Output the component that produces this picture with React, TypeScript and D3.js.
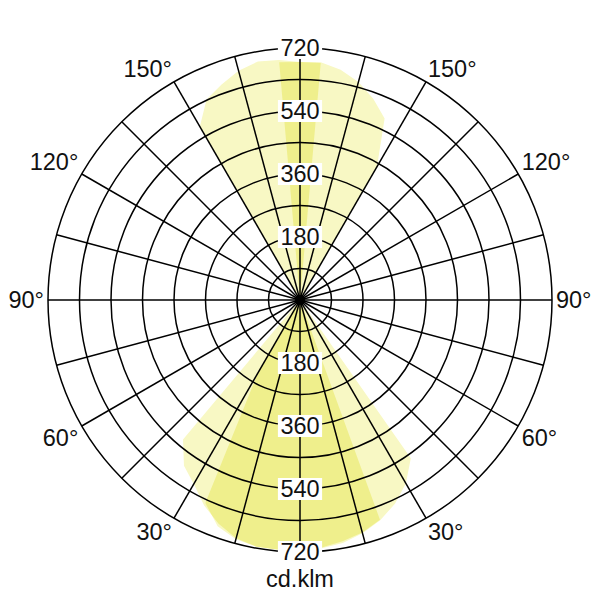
import * as d3 from "d3";
import React from "react";

// luminous intensity curves, angle measured from nadir (0 = down, + = right side)
const gammaA = [-180, -175, -170, -165, -160, -155, -150, -145, -45, -40, -35, -30, -25, -20, -15, -10, -5, 0, 5, 10, 15, 20, 25, 30, 35, 40, 145, 150, 155, 160, 165, 170, 175];
const cdA = [680, 688, 692, 678, 655, 632, 572, 0, 0, 520, 578, 607, 648, 680, 705, 716, 716, 714, 712, 705, 690, 670, 642, 605, 552, 0, 0, 440, 572, 612, 645, 668, 682];

const gammaB = [-180, -175, -170, -35, -30, -25, -20, -15, -10, -5, 0, 5, 10, 15, 20, 25, 170, 175];
const cdB = [680, 682, 0, 0, 240, 640, 688, 708, 716, 716, 714, 710, 700, 688, 668, 0, 0, 680];

const ringValues = [90, 180, 270, 360, 450, 540, 630, 720];
const ringLabels = [180, 360, 540, 720];
const angleLabels = [30, 60, 90, 120, 150];
const unitLabel = "cd.klm";

const width = 600;
const height = 600;
const cx = 300;
const cy = 300;
const outerR = 252;
const fontSize = 23.5;
const font = "'Liberation Sans', Arial, Helvetica, sans-serif";
const paleFill = "#f8f8c4";
const darkFill = "#efef8c";

export default function App() {
  const rScale = d3.scaleLinear().domain([0, 720]).range([0, outerR]);
  const toRad = (phi: number) => Math.PI - (phi * Math.PI) / 180;

  const line = d3
    .lineRadial<[number, number]>()
    .angle((d) => toRad(d[0]))
    .radius((d) => rScale(d[1]))
    .curve(d3.curveLinearClosed);

  const pathA = line(gammaA.map((g, i) => [g, cdA[i]] as [number, number])) ?? "";
  const pathB = line(gammaB.map((g, i) => [g, cdB[i]] as [number, number])) ?? "";

  const spokes = d3.range(0, 360, 15);
  const textW = (s: string) =>
    s.split("").reduce((acc, c) => acc + (c === "°" ? 0.4 : 0.556), 0) * fontSize;

  // angle labels sit just outside the outer ring
  const angleTexts: { x: number; y: number; t: string }[] = [];
  angleLabels.forEach((a) => {
    [-1, 1].forEach((side) => {
      const rad = (a * Math.PI) / 180;
      const ux = side * Math.sin(rad);
      const uy = Math.cos(rad);
      const t = `${a}°`;
      const w = textW(t);
      const px = cx + (outerR + 4) * ux;
      const py = cy + (outerR + 4) * uy;
      const oy = Math.abs(uy) < 0.01 ? 0 : Math.sign(uy) * 10;
      angleTexts.push({ x: px + side * (w / 2), y: py + oy, t });
    });
  });

  return (
    <svg
      width={width}
      height={height}
      viewBox={`0 0 ${width} ${height}`}
      style={{ position: "absolute", left: 0, top: 0, background: "#fff" }}
    >
      <defs>
        <clipPath id="clipA">
          <path d={pathA} transform={`translate(${cx},${cy})`} />
        </clipPath>
      </defs>
      <g transform={`translate(${cx},${cy})`}>
        <path d={pathA} fill={paleFill} />
        <path d={pathB} fill={paleFill} />
      </g>
      <g clipPath="url(#clipA)">
        <path d={pathB} transform={`translate(${cx},${cy})`} fill={darkFill} />
      </g>

      <g stroke="#000" strokeWidth={1.5} fill="none">
        {ringValues.map((v) => (
          <circle key={v} cx={cx} cy={cy} r={rScale(v)} />
        ))}
        {spokes.map((a) => (
          <line
            key={a}
            x1={cx}
            y1={cy}
            x2={cx + outerR * Math.sin((a * Math.PI) / 180)}
            y2={cy - outerR * Math.cos((a * Math.PI) / 180)}
          />
        ))}
      </g>
      <circle cx={cx} cy={cy} r={5} fill="#000" />

      <g fontFamily={font} fontSize={fontSize} fill="#111" textAnchor="middle">
        {ringLabels.map((v) =>
          [-1, 1].map((s) => {
            const y = cy + s * rScale(v);
            const w = textW(String(v)) + 5;
            return (
              <g key={`${v}-${s}`}>
                <rect x={cx - w / 2} y={y - 11} width={w} height={22} fill="#fff" />
                <text x={cx} y={y} dy="0.36em">
                  {v}
                </text>
              </g>
            );
          })
        )}
        {angleTexts.map((d, i) => (
          <text key={i} x={d.x} y={d.y} dy="0.36em">
            {d.t}
          </text>
        ))}
        <text x={cx} y={587}>
          {unitLabel}
        </text>
      </g>
    </svg>
  );
}
